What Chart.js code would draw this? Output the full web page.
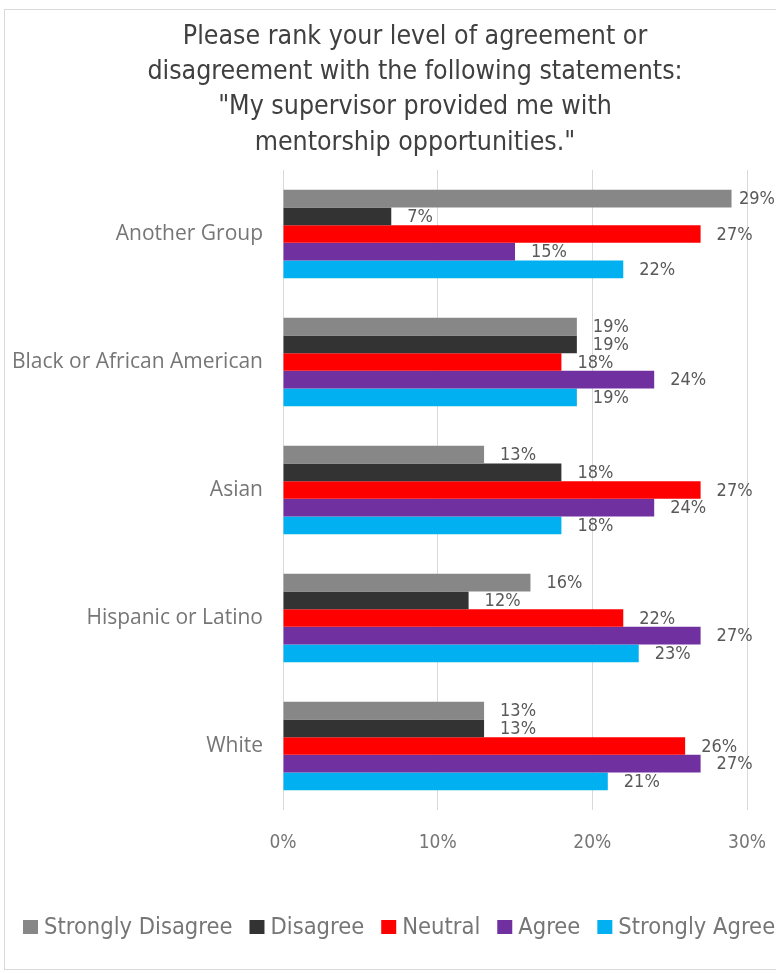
<!DOCTYPE html>
<html>
<head>
<meta charset="utf-8">
<script src="https://cdn.jsdelivr.net/npm/chart.js@4/dist/chart.umd.min.js"></script>
<style>
  html, body { margin: 0; padding: 0; background: #fff; overflow: hidden; }
  #wrap { position: relative; width: 776px; height: 973px; }
  #frame { position: absolute; left: 4px; top: 9px; width: 800px; height: 959px; border: 1px solid #d9d9d9; pointer-events: none; }
</style>
</head>
<body>
<div id="wrap">
  <canvas id="chart" width="776" height="973"></canvas>
  <div id="frame"></div>
</div>
<script>
// Catégories et séries
const groups = ["Another Group", "Black or African American", "Asian", "Hispanic or Latino", "White"];
const stronglyDisagree = [29, 19, 13, 16, 13];
const disagree = [7, 19, 18, 12, 13];
const neutral = [27, 18, 27, 22, 26];
const agree = [15, 24, 24, 27, 27];
const stronglyAgree = [22, 19, 18, 23, 21];
const xTicks = [0, 10, 20, 30];
const titleLines = ['Please rank your level of agreement or', 'disagreement with the following statements:',
                    '"My supervisor provided me with', 'mentorship opportunities."'];

const narrow = '"Liberation Sans Narrow", "DejaVu Sans Condensed", sans-serif';
const darkGray = '#595959';
const lightGray = '#767676';

// Titre centré comme dans le graphique d'origine (un peu à droite du centre)
const blockTitle = {
  id: 'blockTitle',
  afterDraw(chart) {
    const ctx = chart.ctx;
    ctx.save();
    ctx.font = '26.5px ' + narrow;
    ctx.fillStyle = '#404040';
    ctx.textAlign = 'center';
    ctx.textBaseline = 'middle';
    titleLines.forEach((line, i) => ctx.fillText(line, 415, 37 + i * 35.3));
    ctx.restore();
  }
};

// Étiquettes de valeur à droite des barres
const barLabels = {
  id: 'barLabels',
  afterDatasetsDraw(chart) {
    const ctx = chart.ctx;
    ctx.save();
    ctx.font = '18px ' + narrow;
    ctx.fillStyle = darkGray;
    ctx.textAlign = 'left';
    ctx.textBaseline = 'middle';
    chart.data.datasets.forEach((ds, i) => {
      chart.getDatasetMeta(i).data.forEach((bar, j) => {
        const txt = ds.data[j] + '%';
        const w = ctx.measureText(txt).width;
        const x = Math.min(bar.x + 16, chart.width - w - 1);
        ctx.fillText(txt, x, bar.y + 1);
      });
    });
    ctx.restore();
  }
};

// Légende dessinée à la main (une seule ligne, comme dans Excel)
const rowLegend = {
  id: 'rowLegend',
  afterDraw(chart) {
    const ctx = chart.ctx;
    ctx.save();
    ctx.font = '23.5px ' + narrow;
    ctx.textBaseline = 'middle';
    let x = 23;
    const y = 927;
    chart.data.datasets.forEach(ds => {
      ctx.fillStyle = ds.backgroundColor;
      ctx.fillRect(x, y - 7, 15, 14);
      x += 15 + 6;
      ctx.fillStyle = lightGray;
      ctx.fillText(ds.label, x, y + 1);
      x += ctx.measureText(ds.label).width + 17;
    });
    ctx.restore();
  }
};

const ctx = document.getElementById('chart').getContext('2d');
new Chart(ctx, {
  type: 'bar',
  data: {
    labels: groups,
    datasets: [
      { label: 'Strongly Disagree', data: stronglyDisagree, backgroundColor: '#878787' },
      { label: 'Disagree', data: disagree, backgroundColor: '#333333' },
      { label: 'Neutral', data: neutral, backgroundColor: '#ff0000' },
      { label: 'Agree', data: agree, backgroundColor: '#7030a0' },
      { label: 'Strongly Agree', data: stronglyAgree, backgroundColor: '#00b0f0' }
    ]
  },
  options: {
    indexAxis: 'y',
    responsive: false,
    animation: false,
    events: [],
    datasets: { bar: { barPercentage: 1, categoryPercentage: 0.69 } },
    layout: { padding: { left: 8, right: 29, top: 170, bottom: 118 } },
    scales: {
      x: {
        min: 0, max: 30,
        afterBuildTicks(scale) { scale.ticks = xTicks.map(v => ({ value: v })); },
        afterFit(scale) { scale.paddingLeft = 0; scale.paddingRight = 0; scale.height = 45; },
        grid: { color: '#d9d9d9', drawTicks: false },
        border: { display: false },
        ticks: { padding: 22, color: lightGray, font: { family: narrow, size: 19 }, callback: v => v + '%' }
      },
      y: {
        afterFit(scale) { scale.width = 283 - 8; },
        grid: { display: false, drawTicks: false },
        border: { display: false },
        ticks: { padding: 20, color: lightGray, font: { family: '"Open Sans", sans-serif', size: 21 } }
      }
    },
    plugins: {
      title: { display: false },
      legend: { display: false },
      tooltip: { enabled: false }
    }
  },
  plugins: [blockTitle, barLabels, rowLegend]
});
</script>
</body>
</html>
